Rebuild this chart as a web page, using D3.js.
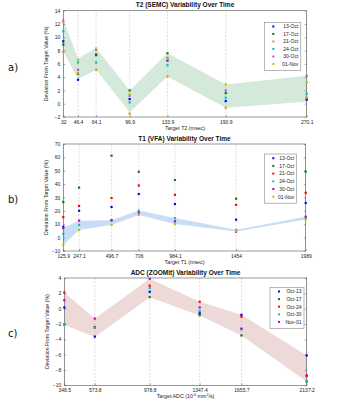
<!DOCTYPE html>
<html>
<head>
<meta charset="utf-8">
<script src="https://cdn.jsdelivr.net/npm/d3@7"></script>
<style>
  body { margin: 0; background: #fff; }
  svg { font-family: "Liberation Sans", Arial, sans-serif; }
</style>
</head>
<body>
<svg width="337" height="400"></svg>
<script>
// T2 (SEMC) panel
var t2Targets = [32, 46.4, 64.1, 96.9, 133.9, 190.9, 270.1];
var t2Dates = ["13-Oct", "17-Oct", "21-Oct", "24-Oct", "30-Oct", "01-Nov"];
var t2Colors = ["#0000ff", "#008000", "#d99a1c", "#00c0c0", "#c050d0", "#c4c000"];
var t2Values = [
  [9.4, 3.6, 7.4, 0.7, 6.5, 0.4, 0.6],
  [8.9, 4.5, 7.3, 2.0, 7.6, 1.6, 0.8],
  [7.8, 4.6, 5.1, -1.5, 4.1, -0.6, 0.9],
  [10.9, 6.2, 6.2, 0.2, 5.8, 0.9, 1.5],
  [12.5, 5.1, 8.1, 1.2, 6.9, 2.0, 4.2],
  [12.2, 6.6, 8.3, 1.4, 6.7, 2.9, 3.2]
];
var t2BandLow = [7.9, 3.7, 5.1, -1.3, 4.1, -0.6, 0.3];
var t2BandHigh = [12.6, 6.8, 8.4, 2.0, 7.6, 2.9, 4.2];
var t2YTicks = [-2, 0, 2, 4, 6, 8, 10, 12, 14];

// T1 (VFA) panel
var t1Targets = [125.9, 247.1, 496.7, 706, 984.1, 1454, 1989];
var t1Dates = ["13-Oct", "17-Oct", "21-Oct", "24-Oct", "30-Oct", "01-Nov"];
var t1Colors = ["#0000ff", "#008000", "#ff0000", "#00c0c0", "#c000c0", "#c0c000"];
var t1Values = [
  [8.1, 20.1, 22.9, 32.6, 25.1, 13.4, 25.9],
  [26.6, 37.4, 61.3, 49.2, 43.1, 29.1, 49.4],
  [15.3, 23.7, 29.6, 39.0, 32.0, 24.5, 33.5],
  [2.8, 9.5, 12.6, 20.2, 14.6, 5.8, 14.5],
  [7.1, 12.7, 13.1, 18.7, 12.2, 4.5, 15.6],
  [-5.5, 5.7, 9.5, 16.9, 10.2, 5.1, 13.6]
];
var t1BandLow = [-5.5, 5.7, 9.5, 16.9, 10.2, 4.5, 13.6];
var t1BandHigh = [7.3, 12.7, 13.1, 20.2, 14.6, 5.8, 15.6];
var t1YTicks = [-10, 0, 10, 20, 30, 40, 50, 60, 70];

// ADC (ZOOMit) panel
var adcTargets = [348.5, 573.8, 978.8, 1347.4, 1655.7, 2137.2];
var adcDates = ["Oct-13", "Oct-17", "Oct-24", "Oct-30", "Nov-01"];
var adcColors = ["#0000ff", "#008000", "#ff0000", "#00c0c0", "#c000c0"];
var adcValues = [
  [0.15, -3.65, 2.2, -0.6, -0.8, -6.1],
  [-2.05, -2.5, 1.5, -0.85, -3.5, -9.5],
  [2.1, -2.4, 3.0, 0.9, -1.05, -8.8],
  [-2.1, -2.5, 2.7, -0.3, -2.7, -9.4],
  [1.1, -1.3, 3.9, 0.15, -2.6, -8.7]
];
var adcBandLow = [-2.1, -3.7, 1.5, -0.9, -3.5, -9.5];
var adcBandHigh = [2.1, -1.3, 3.9, 0.9, -0.8, -6.1];
var adcYTicks = [-10, -8, -6, -4, -2, 0, 2, 4];

var svg = d3.select("svg");

function drawPanel(p) {
  var g = svg.append("g");
  var x = d3.scaleLinear()
    .domain([p.targets[0], p.targets[p.targets.length - 1]])
    .range([p.left, p.right]);
  var y = d3.scaleLinear()
    .domain([p.yTicks[0], p.yTicks[p.yTicks.length - 1]])
    .range([p.bottom, p.top]);

  // shaded band
  var area = d3.area()
    .x(function(d, i) { return x(p.targets[i]); })
    .y0(function(d, i) { return y(p.bandLow[i]); })
    .y1(function(d) { return y(d); });
  g.append("path")
    .datum(p.bandHigh)
    .attr("d", area)
    .attr("fill", p.bandColor);

  // dashed gridlines at each target
  g.selectAll(".vgrid")
    .data(p.targets)
    .enter().append("line")
    .attr("x1", d => x(d)).attr("x2", d => x(d))
    .attr("y1", p.top).attr("y2", p.bottom)
    .attr("stroke", "#c8c8c8")
    .attr("stroke-width", 0.6)
    .attr("stroke-dasharray", "2,1.5");

  // frame
  g.append("rect")
    .attr("x", p.left).attr("y", p.top)
    .attr("width", p.right - p.left).attr("height", p.bottom - p.top)
    .attr("fill", "none")
    .attr("stroke", "#555")
    .attr("stroke-width", 0.6);

  // axes with inward ticks
  var yAxisL = d3.axisLeft(y).tickValues(p.yTicks).tickSize(-2).tickPadding(3);
  var yAxisR = d3.axisRight(y).tickValues(p.yTicks).tickSize(-2).tickFormat("");
  var xAxis = d3.axisBottom(x).tickValues(p.targets).tickSize(-2).tickPadding(3)
    .tickFormat(d3.format(""));
  var gl = g.append("g").attr("transform", "translate(" + p.left + ",0)").call(yAxisL);
  var gr = g.append("g").attr("transform", "translate(" + p.right + ",0)").call(yAxisR);
  var gx = g.append("g").attr("transform", "translate(0," + p.bottom + ")").call(xAxis);
  [gl, gr, gx].forEach(function(a) {
    a.select(".domain").remove();
    a.selectAll("line").attr("stroke", "#555").attr("stroke-width", 0.5);
    a.selectAll("text").attr("font-size", 5).attr("fill", "#222")
      .attr("font-family", "Liberation Sans, Arial, sans-serif");
  });

  // points
  p.values.forEach(function(series, s) {
    g.selectAll(".pt" + s)
      .data(series)
      .enter().append("rect")
      .attr("x", (d, i) => x(p.targets[i]) - 1.1)
      .attr("y", d => y(d) - 1.1)
      .attr("width", 2.2).attr("height", 2.2)
      .attr("fill", p.colors[s]);
  });

  // titles
  g.append("text")
    .attr("x", (p.left + p.right) / 2).attr("y", p.top - 3.5)
    .attr("text-anchor", "middle")
    .attr("font-size", 6.5).attr("font-weight", "bold").attr("fill", "#111")
    .text(p.title);
  var xt = g.append("text")
    .attr("x", (p.left + p.right) / 2).attr("y", p.bottom + 13)
    .attr("text-anchor", "middle")
    .attr("font-size", 5.3).attr("fill", "#222");
  if (p.xTitleSup) {
    xt.append("tspan").text(p.xTitle[0]);
    xt.append("tspan").attr("font-size", 3.6).attr("dy", -2).text(p.xTitleSup[0]);
    xt.append("tspan").attr("dy", 2).text(p.xTitle[1]);
    xt.append("tspan").attr("font-size", 3.6).attr("dy", -2).text(p.xTitleSup[1]);
    xt.append("tspan").attr("dy", 2).text(p.xTitle[2]);
  } else {
    xt.text(p.xTitle);
  }
  g.append("text")
    .attr("transform", "translate(" + (p.left - 15.5) + "," + ((p.top + p.bottom) / 2) + ") rotate(-90)")
    .attr("text-anchor", "middle")
    .attr("font-size", 5.2).attr("fill", "#222")
    .text("Deviation From Target Value (%)");
  g.append("text")
    .attr("x", 8).attr("y", p.labelY)
    .attr("font-size", 10).attr("fill", "#111")
    .attr("font-family", "DejaVu Sans, sans-serif")
    .text(p.label);

  // legend
  var lg = g.append("g");
  lg.append("rect")
    .attr("x", p.legX).attr("y", p.legY)
    .attr("width", p.legW).attr("height", p.dates.length * p.legStep + 3)
    .attr("fill", "#fff").attr("stroke", "#888").attr("stroke-width", 0.6);
  p.dates.forEach(function(dt, i) {
    var cy = p.legY + 4.2 + i * p.legStep;
    lg.append("rect")
      .attr("x", p.legX + 8).attr("y", cy - 1)
      .attr("width", 2).attr("height", 2)
      .attr("fill", p.colors[i]);
    lg.append("text")
      .attr("x", p.legX + p.legW - 2.5).attr("y", cy + 1.8)
      .attr("text-anchor", "end")
      .attr("font-size", 5).attr("fill", "#222")
      .text(dt);
  });
}

drawPanel({
  targets: t2Targets, values: t2Values, colors: t2Colors, dates: t2Dates,
  bandLow: t2BandLow, bandHigh: t2BandHigh, bandColor: "#d5e9da",
  yTicks: t2YTicks,
  left: 63.3, right: 306.7, top: 10.7, bottom: 117,
  title: "T2 (SEMC) Variability Over Time", xTitle: "Target T2 (msec)",
  label: "a)", labelY: 71,
  legX: 264.3, legY: 22.3, legW: 36.5, legStep: 7.5
});

drawPanel({
  targets: t1Targets, values: t1Values, colors: t1Colors, dates: t1Dates,
  bandLow: t1BandLow, bandHigh: t1BandHigh, bandColor: "#c9def6",
  yTicks: t1YTicks,
  left: 63.3, right: 305.7, top: 144, bottom: 251,
  title: "T1 (VFA) Variability Over Time", xTitle: "Target T1 (msec)",
  label: "b)", labelY: 203,
  legX: 264.3, legY: 154, legW: 32.4, legStep: 7.7
});

drawPanel({
  targets: adcTargets, values: adcValues, colors: adcColors, dates: adcDates,
  bandLow: adcBandLow, bandHigh: adcBandHigh, bandColor: "#eed9d9",
  yTicks: adcYTicks,
  left: 64.3, right: 306.7, top: 278, bottom: 385.3,
  title: "ADC (ZOOMit) Variability Over Time",
  xTitle: ["Target ADC (10", " mm", "/s)"], xTitleSup: ["-6", "2"],
  label: "c)", labelY: 337,
  legX: 270, legY: 287.3, legW: 34, legStep: 7.6
});
</script>
</body>
</html>
